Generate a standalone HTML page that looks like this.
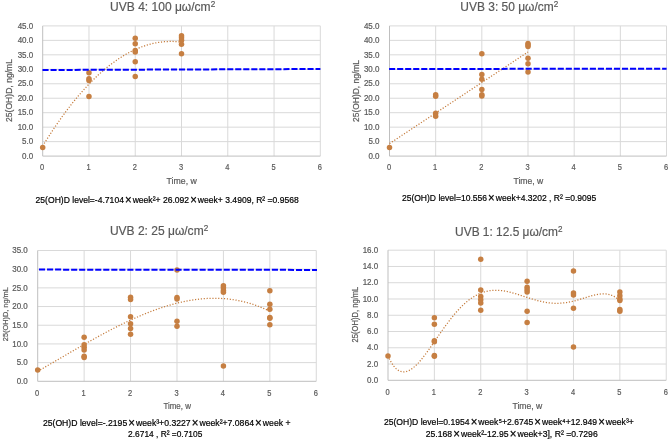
<!DOCTYPE html>
<html><head><meta charset="utf-8"><style>
html,body{margin:0;padding:0;background:#fff;}
svg{display:block;filter:blur(0.3px);}
text{font-family:"Liberation Sans",sans-serif;}
.g{stroke:#595959;stroke-width:0.2px;}
</style></head><body>
<svg width="669" height="440" viewBox="0 0 669 440">
<rect width="669" height="440" fill="#fff"/>
<line x1="42.70" y1="141.63" x2="320.32" y2="141.63" stroke="#d9d9d9" stroke-width="1"/>
<line x1="42.70" y1="127.17" x2="320.32" y2="127.17" stroke="#d9d9d9" stroke-width="1"/>
<line x1="42.70" y1="112.70" x2="320.32" y2="112.70" stroke="#d9d9d9" stroke-width="1"/>
<line x1="42.70" y1="98.23" x2="320.32" y2="98.23" stroke="#d9d9d9" stroke-width="1"/>
<line x1="42.70" y1="83.77" x2="320.32" y2="83.77" stroke="#d9d9d9" stroke-width="1"/>
<line x1="42.70" y1="69.30" x2="320.32" y2="69.30" stroke="#d9d9d9" stroke-width="1"/>
<line x1="42.70" y1="54.83" x2="320.32" y2="54.83" stroke="#d9d9d9" stroke-width="1"/>
<line x1="42.70" y1="40.37" x2="320.32" y2="40.37" stroke="#d9d9d9" stroke-width="1"/>
<line x1="42.70" y1="25.90" x2="320.32" y2="25.90" stroke="#d9d9d9" stroke-width="1"/>
<line x1="88.97" y1="25.90" x2="88.97" y2="156.10" stroke="#d9d9d9" stroke-width="1"/>
<line x1="135.24" y1="25.90" x2="135.24" y2="156.10" stroke="#d9d9d9" stroke-width="1"/>
<line x1="181.51" y1="25.90" x2="181.51" y2="156.10" stroke="#d9d9d9" stroke-width="1"/>
<line x1="227.78" y1="25.90" x2="227.78" y2="156.10" stroke="#d9d9d9" stroke-width="1"/>
<line x1="274.05" y1="25.90" x2="274.05" y2="156.10" stroke="#d9d9d9" stroke-width="1"/>
<line x1="320.32" y1="25.90" x2="320.32" y2="156.10" stroke="#d9d9d9" stroke-width="1"/>
<line x1="42.70" y1="25.90" x2="42.70" y2="156.10" stroke="#bfbfbf" stroke-width="1"/>
<line x1="42.70" y1="156.10" x2="320.32" y2="156.10" stroke="#bfbfbf" stroke-width="1"/>
<text class="g" x="33.20" y="158.80" font-size="8.6" fill="#595959" text-anchor="end" textLength="11.12" lengthAdjust="spacingAndGlyphs">0.0</text>
<text class="g" x="33.20" y="144.33" font-size="8.6" fill="#595959" text-anchor="end" textLength="11.12" lengthAdjust="spacingAndGlyphs">5.0</text>
<text class="g" x="33.20" y="129.87" font-size="8.6" fill="#595959" text-anchor="end" textLength="15.57" lengthAdjust="spacingAndGlyphs">10.0</text>
<text class="g" x="33.20" y="115.40" font-size="8.6" fill="#595959" text-anchor="end" textLength="15.57" lengthAdjust="spacingAndGlyphs">15.0</text>
<text class="g" x="33.20" y="100.93" font-size="8.6" fill="#595959" text-anchor="end" textLength="15.57" lengthAdjust="spacingAndGlyphs">20.0</text>
<text class="g" x="33.20" y="86.47" font-size="8.6" fill="#595959" text-anchor="end" textLength="15.57" lengthAdjust="spacingAndGlyphs">25.0</text>
<text class="g" x="33.20" y="72.00" font-size="8.6" fill="#595959" text-anchor="end" textLength="15.57" lengthAdjust="spacingAndGlyphs">30.0</text>
<text class="g" x="33.20" y="57.53" font-size="8.6" fill="#595959" text-anchor="end" textLength="15.57" lengthAdjust="spacingAndGlyphs">35.0</text>
<text class="g" x="33.20" y="43.07" font-size="8.6" fill="#595959" text-anchor="end" textLength="15.57" lengthAdjust="spacingAndGlyphs">40.0</text>
<text class="g" x="33.20" y="28.60" font-size="8.6" fill="#595959" text-anchor="end" textLength="15.57" lengthAdjust="spacingAndGlyphs">45.0</text>
<text class="g" x="42.20" y="170.30" font-size="8.3" fill="#595959" text-anchor="middle" textLength="4.17" lengthAdjust="spacingAndGlyphs">0</text>
<text class="g" x="88.47" y="170.30" font-size="8.3" fill="#595959" text-anchor="middle" textLength="4.17" lengthAdjust="spacingAndGlyphs">1</text>
<text class="g" x="134.74" y="170.30" font-size="8.3" fill="#595959" text-anchor="middle" textLength="4.17" lengthAdjust="spacingAndGlyphs">2</text>
<text class="g" x="181.01" y="170.30" font-size="8.3" fill="#595959" text-anchor="middle" textLength="4.17" lengthAdjust="spacingAndGlyphs">3</text>
<text class="g" x="227.28" y="170.30" font-size="8.3" fill="#595959" text-anchor="middle" textLength="4.17" lengthAdjust="spacingAndGlyphs">4</text>
<text class="g" x="273.55" y="170.30" font-size="8.3" fill="#595959" text-anchor="middle" textLength="4.17" lengthAdjust="spacingAndGlyphs">5</text>
<text class="g" x="319.82" y="170.30" font-size="8.3" fill="#595959" text-anchor="middle" textLength="4.17" lengthAdjust="spacingAndGlyphs">6</text>
<text class="g" x="110.10" y="10.80" font-size="13" fill="#595959" textLength="105.10" lengthAdjust="spacingAndGlyphs">UVB 4: 100 μω/cm<tspan font-size="8.84" dy="-3.6">2</tspan></text>
<text class="g" x="166.60" y="184.30" font-size="8.6" fill="#595959" textLength="30.20" lengthAdjust="spacingAndGlyphs">Time, w</text>
<text class="g" transform="translate(12.20,122.00) rotate(-90)" x="0" y="0" font-size="8.6" fill="#595959" textLength="63.0" lengthAdjust="spacingAndGlyphs">25(OH)D, ng/mL</text>
<polyline points="42.70,146.00 43.39,144.87 44.09,143.75 44.78,142.63 45.48,141.52 46.17,140.41 46.86,139.32 47.56,138.22 48.25,137.14 48.95,136.06 49.64,134.98 50.33,133.91 51.03,132.85 51.72,131.80 52.42,130.75 53.11,129.70 53.80,128.67 54.50,127.64 55.19,126.61 55.89,125.59 56.58,124.58 57.28,123.57 57.97,122.57 58.66,121.58 59.36,120.59 60.05,119.61 60.75,118.63 61.44,117.66 62.13,116.70 62.83,115.74 63.52,114.79 64.22,113.84 64.91,112.90 65.60,111.97 66.30,111.04 66.99,110.12 67.69,109.21 68.38,108.30 69.07,107.40 69.77,106.50 70.46,105.61 71.16,104.73 71.85,103.85 72.54,102.98 73.24,102.11 73.93,101.25 74.63,100.40 75.32,99.55 76.01,98.71 76.71,97.88 77.40,97.05 78.10,96.22 78.79,95.41 79.48,94.60 80.18,93.79 80.87,92.99 81.57,92.20 82.26,91.42 82.95,90.64 83.65,89.86 84.34,89.10 85.04,88.33 85.73,87.58 86.43,86.83 87.12,86.09 87.81,85.35 88.51,84.62 89.20,83.89 89.90,83.18 90.59,82.46 91.28,81.76 91.98,81.06 92.67,80.36 93.37,79.68 94.06,78.99 94.75,78.32 95.45,77.65 96.14,76.99 96.84,76.33 97.53,75.68 98.22,75.03 98.92,74.39 99.61,73.76 100.31,73.14 101.00,72.52 101.69,71.90 102.39,71.29 103.08,70.69 103.78,70.10 104.47,69.51 105.16,68.92 105.86,68.35 106.55,67.77 107.25,67.21 107.94,66.65 108.63,66.10 109.33,65.55 110.02,65.01 110.72,64.48 111.41,63.95 112.11,63.43 112.80,62.91 113.49,62.40 114.19,61.90 114.88,61.40 115.58,60.91 116.27,60.42 116.96,59.94 117.66,59.47 118.35,59.00 119.05,58.54 119.74,58.09 120.43,57.64 121.13,57.20 121.82,56.76 122.52,56.33 123.21,55.90 123.90,55.49 124.60,55.07 125.29,54.67 125.99,54.27 126.68,53.88 127.37,53.49 128.07,53.11 128.76,52.73 129.46,52.36 130.15,52.00 130.84,51.64 131.54,51.29 132.23,50.95 132.93,50.61 133.62,50.28 134.31,49.95 135.01,49.63 135.70,49.32 136.40,49.01 137.09,48.71 137.78,48.42 138.48,48.13 139.17,47.84 139.87,47.57 140.56,47.30 141.26,47.03 141.95,46.77 142.64,46.52 143.34,46.28 144.03,46.04 144.73,45.80 145.42,45.57 146.11,45.35 146.81,45.14 147.50,44.93 148.20,44.72 148.89,44.53 149.58,44.34 150.28,44.15 150.97,43.97 151.67,43.80 152.36,43.63 153.05,43.47 153.75,43.32 154.44,43.17 155.14,43.03 155.83,42.89 156.52,42.76 157.22,42.64 157.91,42.52 158.61,42.41 159.30,42.31 159.99,42.21 160.69,42.11 161.38,42.03 162.08,41.95 162.77,41.87 163.46,41.80 164.16,41.74 164.85,41.69 165.55,41.64 166.24,41.59 166.93,41.55 167.63,41.52 168.32,41.50 169.02,41.48 169.71,41.46 170.41,41.46 171.10,41.46 171.79,41.46 172.49,41.47 173.18,41.49 173.88,41.51 174.57,41.54 175.26,41.58 175.96,41.62 176.65,41.67 177.35,41.73 178.04,41.79 178.73,41.85 179.43,41.92 180.12,42.00 180.82,42.09 181.51,42.18" fill="none" stroke="#c47a3a" stroke-width="1.25" stroke-dasharray="1.15 1.75" />
<circle cx="42.70" cy="147.56" r="2.75" fill="#c67f42"/>
<circle cx="88.97" cy="72.77" r="2.75" fill="#c67f42"/>
<circle cx="88.97" cy="78.70" r="2.75" fill="#c67f42"/>
<circle cx="88.97" cy="80.58" r="2.75" fill="#c67f42"/>
<circle cx="88.97" cy="96.50" r="2.75" fill="#c67f42"/>
<circle cx="135.24" cy="38.34" r="2.75" fill="#c67f42"/>
<circle cx="135.24" cy="43.84" r="2.75" fill="#c67f42"/>
<circle cx="135.24" cy="50.49" r="2.75" fill="#c67f42"/>
<circle cx="135.24" cy="51.94" r="2.75" fill="#c67f42"/>
<circle cx="135.24" cy="61.78" r="2.75" fill="#c67f42"/>
<circle cx="135.24" cy="76.53" r="2.75" fill="#c67f42"/>
<circle cx="181.51" cy="35.74" r="2.75" fill="#c67f42"/>
<circle cx="181.51" cy="37.76" r="2.75" fill="#c67f42"/>
<circle cx="181.51" cy="40.37" r="2.75" fill="#c67f42"/>
<circle cx="181.51" cy="44.13" r="2.75" fill="#c67f42"/>
<circle cx="181.51" cy="53.68" r="2.75" fill="#c67f42"/>
<line x1="42.50" y1="70.00" x2="320.40" y2="69.00" stroke="#0000ff" stroke-width="2.0" stroke-dasharray="6.1 1.93"/>
<text x="35.60" y="202.60" font-size="9.8" fill="#000" textLength="263.20" lengthAdjust="spacingAndGlyphs" stroke="#000" stroke-width="0.22">25(OH)D level=-4.7104<tspan font-size="13.034000000000002" dx="1.2" dy="0.9">×</tspan><tspan dx="1.2" dy="-0.9">week²+ 26.092</tspan><tspan font-size="13.034000000000002" dx="1.2" dy="0.9">×</tspan><tspan dx="1.2" dy="-0.9">week+ 3.4909, R² =0.9568</tspan></text>
<line x1="389.50" y1="141.63" x2="666.52" y2="141.63" stroke="#d9d9d9" stroke-width="1"/>
<line x1="389.50" y1="127.17" x2="666.52" y2="127.17" stroke="#d9d9d9" stroke-width="1"/>
<line x1="389.50" y1="112.70" x2="666.52" y2="112.70" stroke="#d9d9d9" stroke-width="1"/>
<line x1="389.50" y1="98.23" x2="666.52" y2="98.23" stroke="#d9d9d9" stroke-width="1"/>
<line x1="389.50" y1="83.77" x2="666.52" y2="83.77" stroke="#d9d9d9" stroke-width="1"/>
<line x1="389.50" y1="69.30" x2="666.52" y2="69.30" stroke="#d9d9d9" stroke-width="1"/>
<line x1="389.50" y1="54.83" x2="666.52" y2="54.83" stroke="#d9d9d9" stroke-width="1"/>
<line x1="389.50" y1="40.37" x2="666.52" y2="40.37" stroke="#d9d9d9" stroke-width="1"/>
<line x1="389.50" y1="25.90" x2="666.52" y2="25.90" stroke="#d9d9d9" stroke-width="1"/>
<line x1="435.67" y1="25.90" x2="435.67" y2="156.10" stroke="#d9d9d9" stroke-width="1"/>
<line x1="481.84" y1="25.90" x2="481.84" y2="156.10" stroke="#d9d9d9" stroke-width="1"/>
<line x1="528.01" y1="25.90" x2="528.01" y2="156.10" stroke="#d9d9d9" stroke-width="1"/>
<line x1="574.18" y1="25.90" x2="574.18" y2="156.10" stroke="#d9d9d9" stroke-width="1"/>
<line x1="620.35" y1="25.90" x2="620.35" y2="156.10" stroke="#d9d9d9" stroke-width="1"/>
<line x1="666.52" y1="25.90" x2="666.52" y2="156.10" stroke="#d9d9d9" stroke-width="1"/>
<line x1="389.50" y1="25.90" x2="389.50" y2="156.10" stroke="#bfbfbf" stroke-width="1"/>
<line x1="389.50" y1="156.10" x2="666.52" y2="156.10" stroke="#bfbfbf" stroke-width="1"/>
<text class="g" x="379.50" y="158.80" font-size="8.6" fill="#595959" text-anchor="end" textLength="11.12" lengthAdjust="spacingAndGlyphs">0.0</text>
<text class="g" x="379.50" y="144.33" font-size="8.6" fill="#595959" text-anchor="end" textLength="11.12" lengthAdjust="spacingAndGlyphs">5.0</text>
<text class="g" x="379.50" y="129.87" font-size="8.6" fill="#595959" text-anchor="end" textLength="15.57" lengthAdjust="spacingAndGlyphs">10.0</text>
<text class="g" x="379.50" y="115.40" font-size="8.6" fill="#595959" text-anchor="end" textLength="15.57" lengthAdjust="spacingAndGlyphs">15.0</text>
<text class="g" x="379.50" y="100.93" font-size="8.6" fill="#595959" text-anchor="end" textLength="15.57" lengthAdjust="spacingAndGlyphs">20.0</text>
<text class="g" x="379.50" y="86.47" font-size="8.6" fill="#595959" text-anchor="end" textLength="15.57" lengthAdjust="spacingAndGlyphs">25.0</text>
<text class="g" x="379.50" y="72.00" font-size="8.6" fill="#595959" text-anchor="end" textLength="15.57" lengthAdjust="spacingAndGlyphs">30.0</text>
<text class="g" x="379.50" y="57.53" font-size="8.6" fill="#595959" text-anchor="end" textLength="15.57" lengthAdjust="spacingAndGlyphs">35.0</text>
<text class="g" x="379.50" y="43.07" font-size="8.6" fill="#595959" text-anchor="end" textLength="15.57" lengthAdjust="spacingAndGlyphs">40.0</text>
<text class="g" x="379.50" y="28.60" font-size="8.6" fill="#595959" text-anchor="end" textLength="15.57" lengthAdjust="spacingAndGlyphs">45.0</text>
<text class="g" x="389.00" y="170.30" font-size="8.3" fill="#595959" text-anchor="middle" textLength="4.17" lengthAdjust="spacingAndGlyphs">0</text>
<text class="g" x="435.17" y="170.30" font-size="8.3" fill="#595959" text-anchor="middle" textLength="4.17" lengthAdjust="spacingAndGlyphs">1</text>
<text class="g" x="481.34" y="170.30" font-size="8.3" fill="#595959" text-anchor="middle" textLength="4.17" lengthAdjust="spacingAndGlyphs">2</text>
<text class="g" x="527.51" y="170.30" font-size="8.3" fill="#595959" text-anchor="middle" textLength="4.17" lengthAdjust="spacingAndGlyphs">3</text>
<text class="g" x="573.68" y="170.30" font-size="8.3" fill="#595959" text-anchor="middle" textLength="4.17" lengthAdjust="spacingAndGlyphs">4</text>
<text class="g" x="619.85" y="170.30" font-size="8.3" fill="#595959" text-anchor="middle" textLength="4.17" lengthAdjust="spacingAndGlyphs">5</text>
<text class="g" x="666.02" y="170.30" font-size="8.3" fill="#595959" text-anchor="middle" textLength="4.17" lengthAdjust="spacingAndGlyphs">6</text>
<text class="g" x="460.30" y="10.90" font-size="13" fill="#595959" textLength="97.90" lengthAdjust="spacingAndGlyphs">UVB 3: 50 μω/cm<tspan font-size="8.84" dy="-3.6">2</tspan></text>
<text class="g" x="513.50" y="184.20" font-size="8.6" fill="#595959" textLength="29.70" lengthAdjust="spacingAndGlyphs">Time, w</text>
<text class="g" transform="translate(358.90,121.90) rotate(-90)" x="0" y="0" font-size="8.6" fill="#595959" textLength="61.9" lengthAdjust="spacingAndGlyphs">25(OH)D, ng/mL</text>
<polyline points="389.50,143.60 390.19,143.14 390.89,142.68 391.58,142.23 392.27,141.77 392.96,141.31 393.66,140.85 394.35,140.39 395.04,139.94 395.73,139.48 396.43,139.02 397.12,138.56 397.81,138.10 398.50,137.64 399.20,137.19 399.89,136.73 400.58,136.27 401.27,135.81 401.97,135.35 402.66,134.90 403.35,134.44 404.04,133.98 404.74,133.52 405.43,133.06 406.12,132.61 406.81,132.15 407.51,131.69 408.20,131.23 408.89,130.77 409.58,130.31 410.28,129.86 410.97,129.40 411.66,128.94 412.35,128.48 413.05,128.02 413.74,127.57 414.43,127.11 415.12,126.65 415.82,126.19 416.51,125.73 417.20,125.28 417.89,124.82 418.59,124.36 419.28,123.90 419.97,123.44 420.66,122.98 421.36,122.53 422.05,122.07 422.74,121.61 423.43,121.15 424.13,120.69 424.82,120.24 425.51,119.78 426.21,119.32 426.90,118.86 427.59,118.40 428.28,117.94 428.98,117.49 429.67,117.03 430.36,116.57 431.05,116.11 431.75,115.65 432.44,115.20 433.13,114.74 433.82,114.28 434.52,113.82 435.21,113.36 435.90,112.91 436.59,112.45 437.29,111.99 437.98,111.53 438.67,111.07 439.36,110.61 440.06,110.16 440.75,109.70 441.44,109.24 442.13,108.78 442.83,108.32 443.52,107.87 444.21,107.41 444.90,106.95 445.60,106.49 446.29,106.03 446.98,105.58 447.67,105.12 448.37,104.66 449.06,104.20 449.75,103.74 450.44,103.28 451.14,102.83 451.83,102.37 452.52,101.91 453.21,101.45 453.91,100.99 454.60,100.54 455.29,100.08 455.98,99.62 456.68,99.16 457.37,98.70 458.06,98.25 458.75,97.79 459.45,97.33 460.14,96.87 460.83,96.41 461.53,95.95 462.22,95.50 462.91,95.04 463.60,94.58 464.30,94.12 464.99,93.66 465.68,93.21 466.37,92.75 467.07,92.29 467.76,91.83 468.45,91.37 469.14,90.92 469.84,90.46 470.53,90.00 471.22,89.54 471.91,89.08 472.61,88.62 473.30,88.17 473.99,87.71 474.68,87.25 475.38,86.79 476.07,86.33 476.76,85.88 477.45,85.42 478.15,84.96 478.84,84.50 479.53,84.04 480.22,83.59 480.92,83.13 481.61,82.67 482.30,82.21 482.99,81.75 483.69,81.29 484.38,80.84 485.07,80.38 485.76,79.92 486.46,79.46 487.15,79.00 487.84,78.55 488.53,78.09 489.23,77.63 489.92,77.17 490.61,76.71 491.30,76.26 492.00,75.80 492.69,75.34 493.38,74.88 494.08,74.42 494.77,73.96 495.46,73.51 496.15,73.05 496.85,72.59 497.54,72.13 498.23,71.67 498.92,71.22 499.62,70.76 500.31,70.30 501.00,69.84 501.69,69.38 502.39,68.92 503.08,68.47 503.77,68.01 504.46,67.55 505.16,67.09 505.85,66.63 506.54,66.18 507.23,65.72 507.93,65.26 508.62,64.80 509.31,64.34 510.00,63.89 510.70,63.43 511.39,62.97 512.08,62.51 512.77,62.05 513.47,61.59 514.16,61.14 514.85,60.68 515.54,60.22 516.24,59.76 516.93,59.30 517.62,58.85 518.31,58.39 519.01,57.93 519.70,57.47 520.39,57.01 521.08,56.56 521.78,56.10 522.47,55.64 523.16,55.18 523.85,54.72 524.55,54.26 525.24,53.81 525.93,53.35 526.62,52.89 527.32,52.43 528.01,51.97" fill="none" stroke="#c47a3a" stroke-width="1.25" stroke-dasharray="1.15 1.75" />
<circle cx="389.50" cy="147.42" r="2.75" fill="#c67f42"/>
<circle cx="435.67" cy="94.76" r="2.75" fill="#c67f42"/>
<circle cx="435.67" cy="96.21" r="2.75" fill="#c67f42"/>
<circle cx="435.67" cy="113.28" r="2.75" fill="#c67f42"/>
<circle cx="435.67" cy="116.17" r="2.75" fill="#c67f42"/>
<circle cx="481.84" cy="53.68" r="2.75" fill="#c67f42"/>
<circle cx="481.84" cy="74.51" r="2.75" fill="#c67f42"/>
<circle cx="481.84" cy="79.14" r="2.75" fill="#c67f42"/>
<circle cx="481.84" cy="89.55" r="2.75" fill="#c67f42"/>
<circle cx="481.84" cy="94.76" r="2.75" fill="#c67f42"/>
<circle cx="481.84" cy="95.92" r="2.75" fill="#c67f42"/>
<circle cx="528.01" cy="43.55" r="2.75" fill="#c67f42"/>
<circle cx="528.01" cy="45.00" r="2.75" fill="#c67f42"/>
<circle cx="528.01" cy="46.44" r="2.75" fill="#c67f42"/>
<circle cx="528.01" cy="58.31" r="2.75" fill="#c67f42"/>
<circle cx="528.01" cy="63.80" r="2.75" fill="#c67f42"/>
<circle cx="528.01" cy="71.90" r="2.75" fill="#c67f42"/>
<line x1="389.10" y1="69.00" x2="666.60" y2="68.70" stroke="#0000ff" stroke-width="2.0" stroke-dasharray="6.1 1.93"/>
<text x="401.90" y="201.20" font-size="9.8" fill="#000" textLength="194.40" lengthAdjust="spacingAndGlyphs" stroke="#000" stroke-width="0.22">25(OH)D level=10.556<tspan font-size="13.034000000000002" dx="1.2" dy="0.9">×</tspan><tspan dx="1.2" dy="-0.9">week+4.3202 , R² =0.9095</tspan></text>
<line x1="37.70" y1="362.61" x2="316.28" y2="362.61" stroke="#d9d9d9" stroke-width="1"/>
<line x1="37.70" y1="343.93" x2="316.28" y2="343.93" stroke="#d9d9d9" stroke-width="1"/>
<line x1="37.70" y1="325.24" x2="316.28" y2="325.24" stroke="#d9d9d9" stroke-width="1"/>
<line x1="37.70" y1="306.56" x2="316.28" y2="306.56" stroke="#d9d9d9" stroke-width="1"/>
<line x1="37.70" y1="287.87" x2="316.28" y2="287.87" stroke="#d9d9d9" stroke-width="1"/>
<line x1="37.70" y1="269.19" x2="316.28" y2="269.19" stroke="#d9d9d9" stroke-width="1"/>
<line x1="37.70" y1="250.50" x2="316.28" y2="250.50" stroke="#d9d9d9" stroke-width="1"/>
<line x1="84.13" y1="250.50" x2="84.13" y2="381.30" stroke="#d9d9d9" stroke-width="1"/>
<line x1="130.56" y1="250.50" x2="130.56" y2="381.30" stroke="#d9d9d9" stroke-width="1"/>
<line x1="176.99" y1="250.50" x2="176.99" y2="381.30" stroke="#d9d9d9" stroke-width="1"/>
<line x1="223.42" y1="250.50" x2="223.42" y2="381.30" stroke="#d9d9d9" stroke-width="1"/>
<line x1="269.85" y1="250.50" x2="269.85" y2="381.30" stroke="#d9d9d9" stroke-width="1"/>
<line x1="316.28" y1="250.50" x2="316.28" y2="381.30" stroke="#d9d9d9" stroke-width="1"/>
<line x1="37.70" y1="250.50" x2="37.70" y2="381.30" stroke="#bfbfbf" stroke-width="1"/>
<line x1="37.70" y1="381.30" x2="316.28" y2="381.30" stroke="#bfbfbf" stroke-width="1"/>
<text class="g" x="27.80" y="384.00" font-size="8.6" fill="#595959" text-anchor="end" textLength="11.12" lengthAdjust="spacingAndGlyphs">0.0</text>
<text class="g" x="27.80" y="365.31" font-size="8.6" fill="#595959" text-anchor="end" textLength="11.12" lengthAdjust="spacingAndGlyphs">5.0</text>
<text class="g" x="27.80" y="346.63" font-size="8.6" fill="#595959" text-anchor="end" textLength="15.57" lengthAdjust="spacingAndGlyphs">10.0</text>
<text class="g" x="27.80" y="327.94" font-size="8.6" fill="#595959" text-anchor="end" textLength="15.57" lengthAdjust="spacingAndGlyphs">15.0</text>
<text class="g" x="27.80" y="309.26" font-size="8.6" fill="#595959" text-anchor="end" textLength="15.57" lengthAdjust="spacingAndGlyphs">20.0</text>
<text class="g" x="27.80" y="290.57" font-size="8.6" fill="#595959" text-anchor="end" textLength="15.57" lengthAdjust="spacingAndGlyphs">25.0</text>
<text class="g" x="27.80" y="271.89" font-size="8.6" fill="#595959" text-anchor="end" textLength="15.57" lengthAdjust="spacingAndGlyphs">30.0</text>
<text class="g" x="27.80" y="253.20" font-size="8.6" fill="#595959" text-anchor="end" textLength="15.57" lengthAdjust="spacingAndGlyphs">35.0</text>
<text class="g" x="37.20" y="396.00" font-size="8.3" fill="#595959" text-anchor="middle" textLength="4.17" lengthAdjust="spacingAndGlyphs">0</text>
<text class="g" x="83.63" y="396.00" font-size="8.3" fill="#595959" text-anchor="middle" textLength="4.17" lengthAdjust="spacingAndGlyphs">1</text>
<text class="g" x="130.06" y="396.00" font-size="8.3" fill="#595959" text-anchor="middle" textLength="4.17" lengthAdjust="spacingAndGlyphs">2</text>
<text class="g" x="176.49" y="396.00" font-size="8.3" fill="#595959" text-anchor="middle" textLength="4.17" lengthAdjust="spacingAndGlyphs">3</text>
<text class="g" x="222.92" y="396.00" font-size="8.3" fill="#595959" text-anchor="middle" textLength="4.17" lengthAdjust="spacingAndGlyphs">4</text>
<text class="g" x="269.35" y="396.00" font-size="8.3" fill="#595959" text-anchor="middle" textLength="4.17" lengthAdjust="spacingAndGlyphs">5</text>
<text class="g" x="315.78" y="396.00" font-size="8.3" fill="#595959" text-anchor="middle" textLength="4.17" lengthAdjust="spacingAndGlyphs">6</text>
<text class="g" x="109.90" y="234.60" font-size="13" fill="#595959" textLength="98.30" lengthAdjust="spacingAndGlyphs">UVB 2: 25 μω/cm<tspan font-size="8.84" dy="-3.6">2</tspan></text>
<text class="g" x="163.40" y="409.00" font-size="8.8" fill="#595959" textLength="27.50" lengthAdjust="spacingAndGlyphs">Time, w</text>
<text class="g" transform="translate(8.10,341.20) rotate(-90)" x="0" y="0" font-size="8.1" fill="#595959" textLength="54.0" lengthAdjust="spacingAndGlyphs">25(OH)D, ng/mL</text>
<polyline points="37.70,371.32 38.86,370.65 40.02,369.99 41.18,369.32 42.34,368.66 43.50,367.99 44.66,367.32 45.83,366.65 46.99,365.98 48.15,365.31 49.31,364.63 50.47,363.96 51.63,363.29 52.79,362.61 53.95,361.94 55.11,361.26 56.27,360.58 57.43,359.91 58.59,359.23 59.75,358.55 60.92,357.88 62.08,357.20 63.24,356.52 64.40,355.85 65.56,355.17 66.72,354.49 67.88,353.82 69.04,353.14 70.20,352.47 71.36,351.80 72.52,351.12 73.68,350.45 74.84,349.78 76.00,349.11 77.17,348.44 78.33,347.77 79.49,347.10 80.65,346.44 81.81,345.77 82.97,345.11 84.13,344.45 85.29,343.79 86.45,343.13 87.61,342.47 88.77,341.82 89.93,341.17 91.09,340.51 92.26,339.86 93.42,339.22 94.58,338.57 95.74,337.93 96.90,337.29 98.06,336.65 99.22,336.02 100.38,335.39 101.54,334.76 102.70,334.13 103.86,333.50 105.02,332.88 106.18,332.26 107.34,331.65 108.51,331.03 109.67,330.43 110.83,329.82 111.99,329.22 113.15,328.62 114.31,328.02 115.47,327.43 116.63,326.84 117.79,326.26 118.95,325.67 120.11,325.10 121.27,324.52 122.43,323.95 123.60,323.39 124.76,322.83 125.92,322.27 127.08,321.72 128.24,321.17 129.40,320.63 130.56,320.09 131.72,319.56 132.88,319.03 134.04,318.50 135.20,317.98 136.36,317.47 137.52,316.96 138.69,316.45 139.85,315.95 141.01,315.46 142.17,314.97 143.33,314.49 144.49,314.01 145.65,313.53 146.81,313.07 147.97,312.61 149.13,312.15 150.29,311.70 151.45,311.26 152.61,310.82 153.78,310.39 154.94,309.96 156.10,309.55 157.26,309.13 158.42,308.73 159.58,308.33 160.74,307.93 161.90,307.55 163.06,307.17 164.22,306.79 165.38,306.43 166.54,306.07 167.70,305.72 168.86,305.37 170.03,305.03 171.19,304.70 172.35,304.38 173.51,304.06 174.67,303.76 175.83,303.46 176.99,303.16 178.15,302.88 179.31,302.60 180.47,302.33 181.63,302.07 182.79,301.81 183.95,301.57 185.12,301.33 186.28,301.10 187.44,300.88 188.60,300.67 189.76,300.46 190.92,300.27 192.08,300.08 193.24,299.90 194.40,299.74 195.56,299.57 196.72,299.42 197.88,299.28 199.04,299.15 200.20,299.02 201.37,298.91 202.53,298.80 203.69,298.71 204.85,298.62 206.01,298.54 207.17,298.48 208.33,298.42 209.49,298.37 210.65,298.33 211.81,298.30 212.97,298.29 214.13,298.28 215.29,298.28 216.46,298.29 217.62,298.32 218.78,298.35 219.94,298.39 221.10,298.45 222.26,298.51 223.42,298.59 224.58,298.68 225.74,298.77 226.90,298.88 228.06,299.00 229.22,299.13 230.38,299.27 231.55,299.43 232.71,299.59 233.87,299.77 235.03,299.95 236.19,300.15 237.35,300.36 238.51,300.58 239.67,300.82 240.83,301.06 241.99,301.32 243.15,301.59 244.31,301.87 245.47,302.17 246.63,302.47 247.80,302.79 248.96,303.12 250.12,303.47 251.28,303.82 252.44,304.19 253.60,304.57 254.76,304.97 255.92,305.37 257.08,305.79 258.24,306.23 259.40,306.67 260.56,307.13 261.72,307.60 262.89,308.09 264.05,308.59 265.21,309.10 266.37,309.63 267.53,310.17 268.69,310.72 269.85,311.29" fill="none" stroke="#c47a3a" stroke-width="1.25" stroke-dasharray="1.15 1.75" />
<circle cx="37.70" cy="370.09" r="2.75" fill="#c67f42"/>
<circle cx="84.13" cy="337.20" r="2.75" fill="#c67f42"/>
<circle cx="84.13" cy="344.68" r="2.75" fill="#c67f42"/>
<circle cx="84.13" cy="347.29" r="2.75" fill="#c67f42"/>
<circle cx="84.13" cy="349.91" r="2.75" fill="#c67f42"/>
<circle cx="84.13" cy="356.26" r="2.75" fill="#c67f42"/>
<circle cx="84.13" cy="357.38" r="2.75" fill="#c67f42"/>
<circle cx="130.56" cy="297.21" r="2.75" fill="#c67f42"/>
<circle cx="130.56" cy="299.46" r="2.75" fill="#c67f42"/>
<circle cx="130.56" cy="316.65" r="2.75" fill="#c67f42"/>
<circle cx="130.56" cy="323.75" r="2.75" fill="#c67f42"/>
<circle cx="130.56" cy="328.61" r="2.75" fill="#c67f42"/>
<circle cx="130.56" cy="334.21" r="2.75" fill="#c67f42"/>
<circle cx="176.99" cy="269.93" r="2.75" fill="#c67f42"/>
<circle cx="176.99" cy="297.59" r="2.75" fill="#c67f42"/>
<circle cx="176.99" cy="299.08" r="2.75" fill="#c67f42"/>
<circle cx="176.99" cy="321.13" r="2.75" fill="#c67f42"/>
<circle cx="176.99" cy="326.36" r="2.75" fill="#c67f42"/>
<circle cx="223.42" cy="285.63" r="2.75" fill="#c67f42"/>
<circle cx="223.42" cy="287.87" r="2.75" fill="#c67f42"/>
<circle cx="223.42" cy="290.49" r="2.75" fill="#c67f42"/>
<circle cx="223.42" cy="292.36" r="2.75" fill="#c67f42"/>
<circle cx="223.42" cy="365.98" r="2.75" fill="#c67f42"/>
<circle cx="269.85" cy="290.86" r="2.75" fill="#c67f42"/>
<circle cx="269.85" cy="304.31" r="2.75" fill="#c67f42"/>
<circle cx="269.85" cy="309.17" r="2.75" fill="#c67f42"/>
<circle cx="269.85" cy="317.39" r="2.75" fill="#c67f42"/>
<circle cx="269.85" cy="318.14" r="2.75" fill="#c67f42"/>
<circle cx="269.85" cy="324.87" r="2.75" fill="#c67f42"/>
<line x1="39.00" y1="269.60" x2="317.00" y2="269.90" stroke="#0000ff" stroke-width="2.0" stroke-dasharray="6.1 1.93"/>
<text x="42.90" y="426.20" font-size="9.8" fill="#000" textLength="247.60" lengthAdjust="spacingAndGlyphs" stroke="#000" stroke-width="0.22">25(OH)D level=-.2195<tspan font-size="13.034000000000002" dx="1.2" dy="0.9">×</tspan><tspan dx="1.2" dy="-0.9">week³+0.3227</tspan><tspan font-size="13.034000000000002" dx="1.2" dy="0.9">×</tspan><tspan dx="1.2" dy="-0.9">week²+7.0864</tspan><tspan font-size="13.034000000000002" dx="1.2" dy="0.9">×</tspan><tspan dx="1.2" dy="-0.9">week +</tspan></text>
<text x="128.10" y="437.40" font-size="9.8" fill="#000" textLength="74.20" lengthAdjust="spacingAndGlyphs" stroke="#000" stroke-width="0.22">2.6714 , R² =0.7105</text>
<line x1="388.00" y1="364.04" x2="666.22" y2="364.04" stroke="#d9d9d9" stroke-width="1"/>
<line x1="388.00" y1="347.78" x2="666.22" y2="347.78" stroke="#d9d9d9" stroke-width="1"/>
<line x1="388.00" y1="331.51" x2="666.22" y2="331.51" stroke="#d9d9d9" stroke-width="1"/>
<line x1="388.00" y1="315.25" x2="666.22" y2="315.25" stroke="#d9d9d9" stroke-width="1"/>
<line x1="388.00" y1="298.99" x2="666.22" y2="298.99" stroke="#d9d9d9" stroke-width="1"/>
<line x1="388.00" y1="282.73" x2="666.22" y2="282.73" stroke="#d9d9d9" stroke-width="1"/>
<line x1="388.00" y1="266.46" x2="666.22" y2="266.46" stroke="#d9d9d9" stroke-width="1"/>
<line x1="388.00" y1="250.20" x2="666.22" y2="250.20" stroke="#d9d9d9" stroke-width="1"/>
<line x1="434.37" y1="250.20" x2="434.37" y2="380.30" stroke="#d9d9d9" stroke-width="1"/>
<line x1="480.74" y1="250.20" x2="480.74" y2="380.30" stroke="#d9d9d9" stroke-width="1"/>
<line x1="527.11" y1="250.20" x2="527.11" y2="380.30" stroke="#d9d9d9" stroke-width="1"/>
<line x1="573.48" y1="250.20" x2="573.48" y2="380.30" stroke="#d9d9d9" stroke-width="1"/>
<line x1="619.85" y1="250.20" x2="619.85" y2="380.30" stroke="#d9d9d9" stroke-width="1"/>
<line x1="666.22" y1="250.20" x2="666.22" y2="380.30" stroke="#d9d9d9" stroke-width="1"/>
<line x1="388.00" y1="250.20" x2="388.00" y2="380.30" stroke="#bfbfbf" stroke-width="1"/>
<line x1="388.00" y1="380.30" x2="666.22" y2="380.30" stroke="#bfbfbf" stroke-width="1"/>
<text class="g" x="378.20" y="383.00" font-size="8.6" fill="#595959" text-anchor="end" textLength="11.12" lengthAdjust="spacingAndGlyphs">0.0</text>
<text class="g" x="378.20" y="366.74" font-size="8.6" fill="#595959" text-anchor="end" textLength="11.12" lengthAdjust="spacingAndGlyphs">2.0</text>
<text class="g" x="378.20" y="350.48" font-size="8.6" fill="#595959" text-anchor="end" textLength="11.12" lengthAdjust="spacingAndGlyphs">4.0</text>
<text class="g" x="378.20" y="334.21" font-size="8.6" fill="#595959" text-anchor="end" textLength="11.12" lengthAdjust="spacingAndGlyphs">6.0</text>
<text class="g" x="378.20" y="317.95" font-size="8.6" fill="#595959" text-anchor="end" textLength="11.12" lengthAdjust="spacingAndGlyphs">8.0</text>
<text class="g" x="378.20" y="301.69" font-size="8.6" fill="#595959" text-anchor="end" textLength="15.57" lengthAdjust="spacingAndGlyphs">10.0</text>
<text class="g" x="378.20" y="285.43" font-size="8.6" fill="#595959" text-anchor="end" textLength="15.57" lengthAdjust="spacingAndGlyphs">12.0</text>
<text class="g" x="378.20" y="269.16" font-size="8.6" fill="#595959" text-anchor="end" textLength="15.57" lengthAdjust="spacingAndGlyphs">14.0</text>
<text class="g" x="378.20" y="252.90" font-size="8.6" fill="#595959" text-anchor="end" textLength="15.57" lengthAdjust="spacingAndGlyphs">16.0</text>
<text class="g" x="387.50" y="395.00" font-size="8.3" fill="#595959" text-anchor="middle" textLength="4.17" lengthAdjust="spacingAndGlyphs">0</text>
<text class="g" x="433.87" y="395.00" font-size="8.3" fill="#595959" text-anchor="middle" textLength="4.17" lengthAdjust="spacingAndGlyphs">1</text>
<text class="g" x="480.24" y="395.00" font-size="8.3" fill="#595959" text-anchor="middle" textLength="4.17" lengthAdjust="spacingAndGlyphs">2</text>
<text class="g" x="526.61" y="395.00" font-size="8.3" fill="#595959" text-anchor="middle" textLength="4.17" lengthAdjust="spacingAndGlyphs">3</text>
<text class="g" x="572.98" y="395.00" font-size="8.3" fill="#595959" text-anchor="middle" textLength="4.17" lengthAdjust="spacingAndGlyphs">4</text>
<text class="g" x="619.35" y="395.00" font-size="8.3" fill="#595959" text-anchor="middle" textLength="4.17" lengthAdjust="spacingAndGlyphs">5</text>
<text class="g" x="665.72" y="395.00" font-size="8.3" fill="#595959" text-anchor="middle" textLength="4.17" lengthAdjust="spacingAndGlyphs">6</text>
<text class="g" x="455.10" y="235.70" font-size="13" fill="#595959" textLength="107.30" lengthAdjust="spacingAndGlyphs">UVB 1: 12.5 μω/cm<tspan font-size="8.84" dy="-3.6">2</tspan></text>
<text class="g" x="512.50" y="408.50" font-size="8.6" fill="#595959" textLength="29.80" lengthAdjust="spacingAndGlyphs">Time, w</text>
<text class="g" transform="translate(357.80,342.40) rotate(-90)" x="0" y="0" font-size="8.2" fill="#595959" textLength="55.7" lengthAdjust="spacingAndGlyphs">25(OH)D, ng/mL</text>
<polyline points="388.00,355.91 389.16,358.41 390.32,360.67 391.48,362.70 392.64,364.49 393.80,366.07 394.96,367.44 396.11,368.61 397.27,369.59 398.43,370.38 399.59,371.00 400.75,371.46 401.91,371.75 403.07,371.89 404.23,371.89 405.39,371.75 406.55,371.48 407.71,371.09 408.87,370.58 410.03,369.97 411.19,369.25 412.34,368.43 413.50,367.52 414.66,366.53 415.82,365.46 416.98,364.32 418.14,363.11 419.30,361.83 420.46,360.50 421.62,359.12 422.78,357.68 423.94,356.21 425.10,354.69 426.26,353.15 427.41,351.57 428.57,349.96 429.73,348.34 430.89,346.70 432.05,345.04 433.21,343.37 434.37,341.69 435.53,340.01 436.69,338.33 437.85,336.65 439.01,334.97 440.17,333.31 441.33,331.65 442.48,330.01 443.64,328.38 444.80,326.76 445.96,325.17 447.12,323.60 448.28,322.06 449.44,320.53 450.60,319.04 451.76,317.57 452.92,316.14 454.08,314.74 455.24,313.37 456.40,312.03 457.56,310.73 458.71,309.47 459.87,308.24 461.03,307.05 462.19,305.90 463.35,304.79 464.51,303.72 465.67,302.70 466.83,301.71 467.99,300.76 469.15,299.86 470.31,299.00 471.47,298.18 472.63,297.40 473.78,296.67 474.94,295.98 476.10,295.33 477.26,294.72 478.42,294.15 479.58,293.62 480.74,293.14 481.90,292.69 483.06,292.29 484.22,291.92 485.38,291.60 486.54,291.31 487.70,291.06 488.85,290.84 490.01,290.66 491.17,290.52 492.33,290.41 493.49,290.33 494.65,290.29 495.81,290.27 496.97,290.29 498.13,290.33 499.29,290.41 500.45,290.51 501.61,290.63 502.77,290.78 503.93,290.96 505.08,291.15 506.24,291.37 507.40,291.61 508.56,291.86 509.72,292.14 510.88,292.43 512.04,292.73 513.20,293.05 514.36,293.38 515.52,293.72 516.68,294.07 517.84,294.42 519.00,294.79 520.15,295.16 521.31,295.53 522.47,295.91 523.63,296.29 524.79,296.67 525.95,297.05 527.11,297.43 528.27,297.81 529.43,298.18 530.59,298.55 531.75,298.90 532.91,299.26 534.07,299.60 535.22,299.93 536.38,300.26 537.54,300.57 538.70,300.87 539.86,301.15 541.02,301.42 542.18,301.68 543.34,301.92 544.50,302.14 545.66,302.35 546.82,302.53 547.98,302.70 549.14,302.85 550.29,302.98 551.45,303.09 552.61,303.18 553.77,303.24 554.93,303.29 556.09,303.31 557.25,303.31 558.41,303.29 559.57,303.25 560.73,303.19 561.89,303.10 563.05,303.00 564.21,302.87 565.37,302.72 566.52,302.55 567.68,302.36 568.84,302.16 570.00,301.93 571.16,301.69 572.32,301.42 573.48,301.15 574.64,300.85 575.80,300.55 576.96,300.23 578.12,299.90 579.28,299.56 580.44,299.21 581.59,298.86 582.75,298.50 583.91,298.13 585.07,297.77 586.23,297.40 587.39,297.04 588.55,296.69 589.71,296.34 590.87,296.00 592.03,295.68 593.19,295.37 594.35,295.08 595.51,294.81 596.66,294.57 597.82,294.35 598.98,294.17 600.14,294.02 601.30,293.91 602.46,293.84 603.62,293.81 604.78,293.84 605.94,293.92 607.10,294.07 608.26,294.27 609.42,294.54 610.58,294.89 611.74,295.32 612.89,295.82 614.05,296.42 615.21,297.11 616.37,297.90 617.53,298.79 618.69,299.80 619.85,300.92" fill="none" stroke="#c47a3a" stroke-width="1.25" stroke-dasharray="1.15 1.75" />
<circle cx="388.00" cy="355.91" r="2.75" fill="#c67f42"/>
<circle cx="434.37" cy="317.69" r="2.75" fill="#c67f42"/>
<circle cx="434.37" cy="324.19" r="2.75" fill="#c67f42"/>
<circle cx="434.37" cy="340.86" r="2.75" fill="#c67f42"/>
<circle cx="434.37" cy="341.68" r="2.75" fill="#c67f42"/>
<circle cx="434.37" cy="355.50" r="2.75" fill="#c67f42"/>
<circle cx="434.37" cy="356.31" r="2.75" fill="#c67f42"/>
<circle cx="480.74" cy="259.14" r="2.75" fill="#c67f42"/>
<circle cx="480.74" cy="290.04" r="2.75" fill="#c67f42"/>
<circle cx="480.74" cy="296.55" r="2.75" fill="#c67f42"/>
<circle cx="480.74" cy="299.80" r="2.75" fill="#c67f42"/>
<circle cx="480.74" cy="303.05" r="2.75" fill="#c67f42"/>
<circle cx="480.74" cy="310.37" r="2.75" fill="#c67f42"/>
<circle cx="527.11" cy="281.26" r="2.75" fill="#c67f42"/>
<circle cx="527.11" cy="287.20" r="2.75" fill="#c67f42"/>
<circle cx="527.11" cy="289.64" r="2.75" fill="#c67f42"/>
<circle cx="527.11" cy="291.99" r="2.75" fill="#c67f42"/>
<circle cx="527.11" cy="311.18" r="2.75" fill="#c67f42"/>
<circle cx="527.11" cy="322.57" r="2.75" fill="#c67f42"/>
<circle cx="573.48" cy="270.93" r="2.75" fill="#c67f42"/>
<circle cx="573.48" cy="292.89" r="2.75" fill="#c67f42"/>
<circle cx="573.48" cy="294.92" r="2.75" fill="#c67f42"/>
<circle cx="573.48" cy="308.26" r="2.75" fill="#c67f42"/>
<circle cx="573.48" cy="346.96" r="2.75" fill="#c67f42"/>
<circle cx="619.85" cy="292.08" r="2.75" fill="#c67f42"/>
<circle cx="619.85" cy="295.74" r="2.75" fill="#c67f42"/>
<circle cx="619.85" cy="298.99" r="2.75" fill="#c67f42"/>
<circle cx="619.85" cy="300.61" r="2.75" fill="#c67f42"/>
<circle cx="619.85" cy="309.56" r="2.75" fill="#c67f42"/>
<circle cx="619.85" cy="311.18" r="2.75" fill="#c67f42"/>
<text x="383.90" y="425.00" font-size="9.8" fill="#000" textLength="249.90" lengthAdjust="spacingAndGlyphs" stroke="#000" stroke-width="0.22">25(OH)D level=0.1954<tspan font-size="13.034000000000002" dx="1.2" dy="0.9">×</tspan><tspan dx="1.2" dy="-0.9">week⁵+2.6745</tspan><tspan font-size="13.034000000000002" dx="1.2" dy="0.9">×</tspan><tspan dx="1.2" dy="-0.9">week⁴+12.949</tspan><tspan font-size="13.034000000000002" dx="1.2" dy="0.9">×</tspan><tspan dx="1.2" dy="-0.9">week³+</tspan></text>
<text x="425.70" y="436.70" font-size="9.8" fill="#000" textLength="172.00" lengthAdjust="spacingAndGlyphs" stroke="#000" stroke-width="0.22">25.168<tspan font-size="13.034000000000002" dx="1.2" dy="0.9">×</tspan><tspan dx="1.2" dy="-0.9">week²-12.95</tspan><tspan font-size="13.034000000000002" dx="1.2" dy="0.9">×</tspan><tspan dx="1.2" dy="-0.9">week+3], R² =0.7296</tspan></text>
</svg></body></html>
